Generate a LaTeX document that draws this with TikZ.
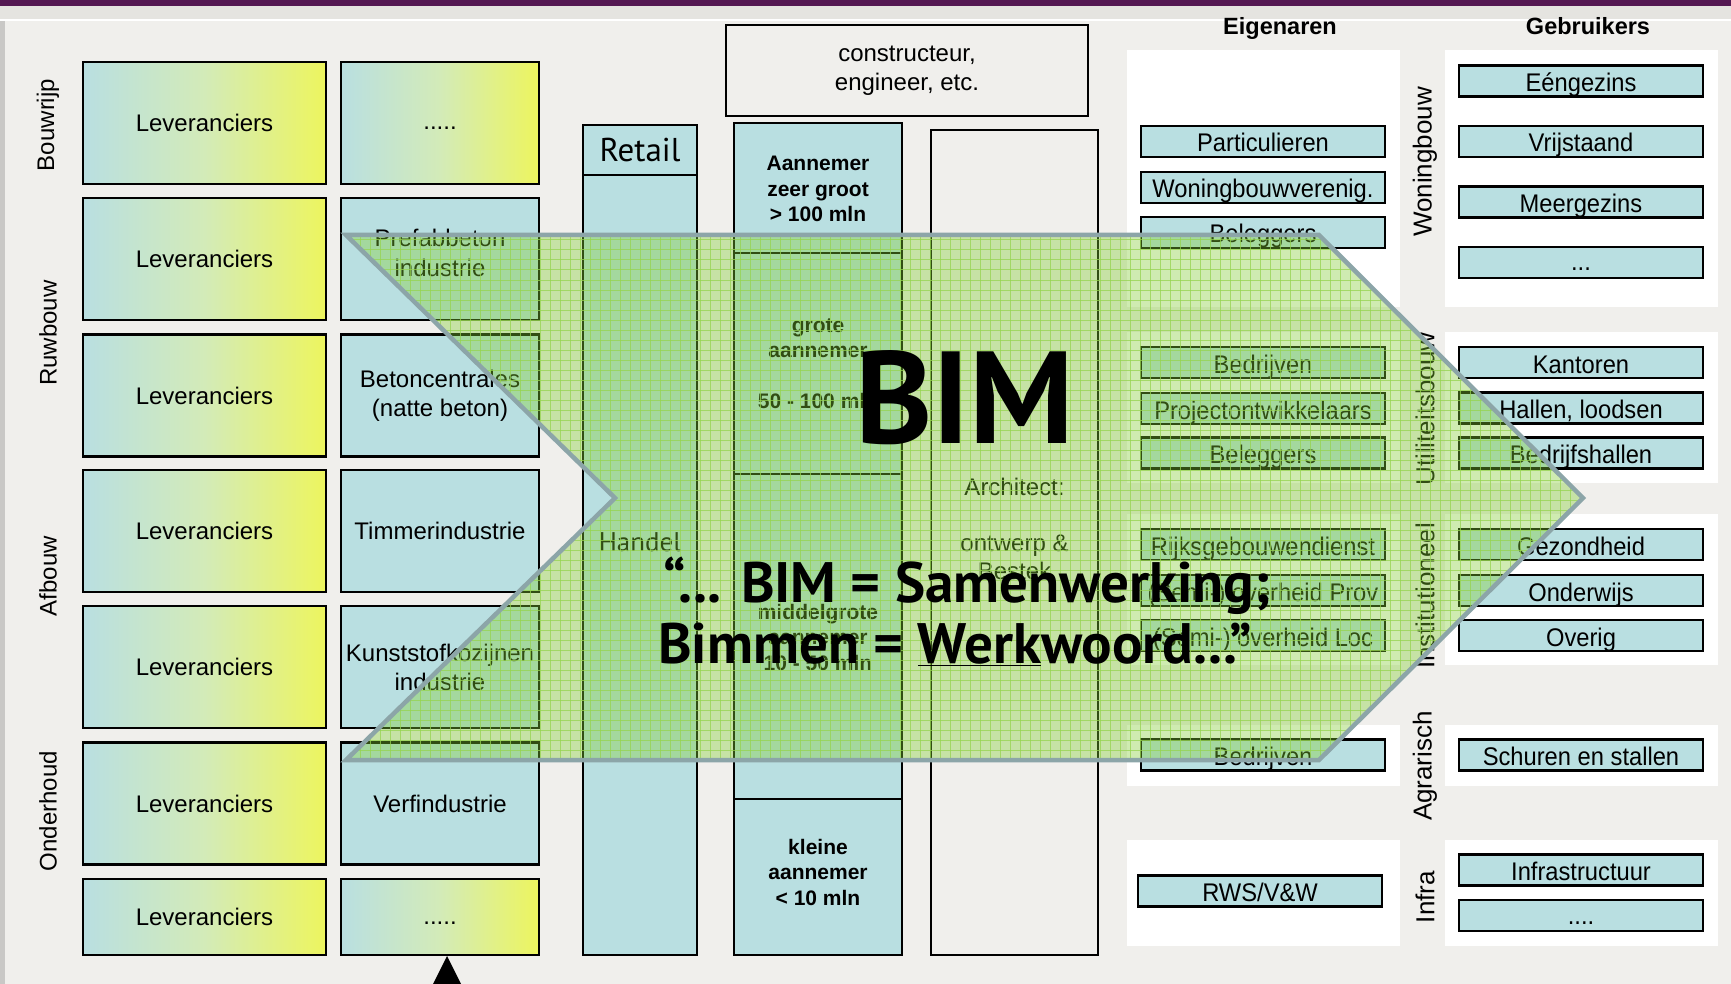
\documentclass[tikz,border=0pt]{standalone}
\usepackage{fontspec}
\setmainfont{Liberation Sans}
\newfontfamily\narfont[FakeStretch=0.93]{Liberation Sans}
\newfontfamily\ptsans{PT Sans}
\definecolor{bg}{HTML}{F0EFEC}
\definecolor{cy}{HTML}{B9DFE1}
\definecolor{yl}{HTML}{EDF55E}
\definecolor{md}{HTML}{D3EBB8}
\definecolor{purp}{HTML}{541852}
\definecolor{band}{HTML}{E5E4E0}
\definecolor{lstrip}{HTML}{C9C8C6}
\definecolor{arrowfill}{RGB}{130,205,50}
\definecolor{gridgreen}{RGB}{150,212,80}
\definecolor{arrowedge}{HTML}{8CA5A8}
\newcommand{\fsz}[2]{\fontsize{#1}{#2}\selectfont}
\begin{document}
\begin{tikzpicture}[x=1pt,y=-1pt,
  box/.style={draw=black, line width=2.6pt, inner sep=0pt, align=center},
  gradbox/.style={box, left color=cy, right color=yl, middle color=md},
  plainbox/.style={box, fill=cy},
  bigtxt/.style={font=\fsz{24}{29}},
  smallbox/.style={box, fill=cy, minimum height=31, font=\narfont\fsz{25.5}{30}, text height=24pt, text depth=3pt},
  ownbox/.style={smallbox, minimum width=244},
  usebox/.style={smallbox, minimum width=244},
  leftlab/.style={rotate=90, font=\fsz{24}{29}},
  rightlab/.style={rotate=90, font=\fsz{26}{30}},
  colline/.style={draw=black, line width=2.6pt},
  aantxt/.style={align=center, font=\bfseries\fsz{21}{25.5}},
  panel/.style={fill=white},
  gridline/.style={gridgreen, line width=1pt, opacity=0.75}
]
\useasboundingbox (0,0) rectangle (1731,984);
\fill[bg] (0,0) rectangle (1731,984);
\fill[lstrip] (0,0) rectangle (5,984);
\fill[band] (0,6) rectangle (1731,19);
\fill[white] (0,19) rectangle (1731,21);
\fill[purp] (0,0) rectangle (1731,6);

% left grid of suppliers
\foreach \r/\yc in {1/123,2/259,3/395.5,4/531,5/667,6/803.5}
  \node[gradbox, bigtxt, minimum width=243, minimum height=122] (lev\r) at (204.5,\yc) {Leveranciers};
\node[gradbox, bigtxt, minimum width=243, minimum height=76] (lev7) at (204.5,917) {Leveranciers};

\node[gradbox, bigtxt, minimum width=198, minimum height=122, text height=14pt, text depth=0pt] (ind1) at (440,123) {.....};
\node[plainbox, bigtxt, minimum width=198, minimum height=122] (ind2) at (440,259) {};
\node[bigtxt, align=center, font=\fsz{24}{30}] (ind2t) at (440,253) {Prefabbeton\\industrie};
\node[plainbox, bigtxt, minimum width=198, minimum height=122] (ind3) at (440,395.5) {Betoncentrales\\(natte beton)};
\node[plainbox, bigtxt, minimum width=198, minimum height=122] (ind4) at (440,531) {Timmerindustrie};
\node[plainbox, bigtxt, minimum width=198, minimum height=122] (ind5) at (440,667) {Kunststofkozijnen\\industrie};
\node[plainbox, bigtxt, minimum width=198, minimum height=122] (ind6) at (440,803.5) {Verfindustrie};
\node[gradbox, bigtxt, minimum width=198, minimum height=76, text height=14pt, text depth=0pt] (ind7) at (440,917) {.....};

\node[leftlab] (lbw) at (48,125) {Bouwrijp};
\node[leftlab] (lrw) at (48,333) {Ruwbouw};
\node[leftlab] (laf) at (48,576) {Afbouw};
\node[leftlab] (lon) at (48,811) {Onderhoud};

\coordinate (tri) at (447,956);
\fill[black] (tri) -- (432,986) -- (462,986) -- cycle;

% Retail column
\fill[cy] (583,125) rectangle (697,955);
\draw[colline] (583,125) rectangle (697,955);
\draw[colline] (583,175) -- (697,175);
\node[font=\ptsans\fsz{33}{36}] (retail) at (640,150) {Retail};
\node[font=\ptsans\fsz{27}{30}] (handel) at (640,542) {Handel};

% Aannemer column
\fill[cy] (734,123) rectangle (902,955);
\draw[colline] (734,123) rectangle (902,955);
\draw[colline] (734,253) -- (902,253);
\draw[colline] (734,474) -- (902,474);
\draw[colline] (734,799) -- (902,799);
\node[aantxt] (aan1) at (818,189) {Aannemer\\zeer groot\\> 100 mln};
\node[aantxt] (aan2) at (818,364) {grote\\aannemer\\[25.5pt]50 - 100 mln};
\node[aantxt] (aan3) at (818,637) {middelgrote\\aannemer\\10 - 50 mln};
\node[aantxt] (aan4) at (818,872) {kleine\\aannemer\\< 10 mln};

% Architect column
\draw[colline] (931,130) rectangle (1098,955);
\node[align=center, font=\fsz{24}{28}] (arch) at (1014.5,529) {Architect:\\[28pt]ontwerp \&\\Bestek};

% constructeur
\node[box, bigtxt, minimum width=362, minimum height=91] (constr) at (907,70.5) {constructeur,\\engineer, etc.};

% right side panels
\foreach \ya/\yb in {50/307,332/483,514/665,725/786,840/946} {
  \fill[panel] (1127,\ya) rectangle (1400,\yb);
  \fill[panel] (1445,\ya) rectangle (1718,\yb);
}
\node[font=\bfseries\fsz{23.5}{28}, anchor=base] (eig) at (1280,35) {Eigenaren};
\node[font=\bfseries\fsz{23.5}{28}, anchor=base] (geb) at (1588,35) {Gebruikers};

\node[rightlab] (rwon) at (1425,162) {Woningbouw};
\node[rightlab] (rutl) at (1425,409) {Utiliteitsbouw};
\node[rightlab] (rins) at (1425,596) {Institutioneel};
\node[rightlab] (ragr) at (1425,766) {Agrarisch};
\node[rightlab] (rinf) at (1425,897) {Infra};

\node[ownbox] (o1) at (1263,141.5) {Particulieren};
\node[ownbox] (o2) at (1263,187.5) {Woningbouwverenig.};
\node[ownbox] (o3) at (1263,232.5) {Beleggers};
\node[ownbox] (o4) at (1263,362.5) {Bedrijven};
\node[ownbox] (o5) at (1263,408.5) {Projectontwikkelaars};
\node[ownbox] (o6) at (1263,453) {Beleggers};
\node[ownbox] (o7) at (1263,544.5) {Rijksgebouwendienst};
\node[ownbox] (o8) at (1263,590.5) {(Semi-) overheid Prov};
\node[ownbox] (o9) at (1263,635.5) {(Semi-) overheid Loc};
\node[ownbox] (o10) at (1263,755) {Bedrijven};
\node[ownbox] (o11) at (1260,891) {RWS/V\&W};

\node[usebox] (u1) at (1581,81) {Eéngezins};
\node[usebox] (u2) at (1581,141.5) {Vrijstaand};
\node[usebox] (u3) at (1581,202) {Meergezins};
\node[usebox, text height=17pt, text depth=0pt] (u4) at (1581,262.5) {...};
\node[usebox] (u5) at (1581,362.5) {Kantoren};
\node[usebox] (u6) at (1581,408) {Hallen, loodsen};
\node[usebox] (u7) at (1581,453) {Bedrijfshallen};
\node[usebox] (u8) at (1581,544.5) {Gezondheid};
\node[usebox] (u9) at (1581,590.5) {Onderwijs};
\node[usebox] (u10) at (1581,635.5) {Overig};
\node[usebox] (u11) at (1581,755) {Schuren en stallen};
\node[usebox] (u12) at (1581,870) {Infrastructuur};
\node[usebox, text height=17pt, text depth=0pt] (u13) at (1581,915.5) {....};

% BIM arrow
\coordinate (a1) at (346,235);
\coordinate (a2) at (1319,235);
\coordinate (a3) at (1583,498);
\coordinate (a4) at (1319,760);
\coordinate (a5) at (346,760);
\coordinate (a6) at (615,498);
\fill[arrowfill, fill opacity=0.38] (a1) -- (a2) -- (a3) -- (a4) -- (a5) -- (a6) -- cycle;
\begin{scope}
  \clip (a1) -- (a2) -- (a3) -- (a4) -- (a5) -- (a6) -- cycle;
  \foreach \gx in {340,350,...,1590} \draw[gridline] (\gx,228) -- (\gx,768);
  \foreach \gy in {230,240,...,770} \draw[gridline] (338,\gy) -- (1590,\gy);
\end{scope}
\draw[arrowedge, line width=4.5pt] (a1) -- (a2) -- (a3) -- (a4) -- (a5) -- (a6) -- cycle;

\node[font=\ptsans\bfseries\fsz{131}{131}, anchor=base, inner sep=0pt] (bim) at (965,443) {BIM};
\node[font=\ptsans\bfseries\fsz{57}{61}, anchor=base, inner sep=0pt] (q1) at (967,602) {“... BIM = Samenwerking;};
\node[font=\ptsans\bfseries\fsz{57}{61}, anchor=base, inner sep=0pt] (q2) at (955,663) {Bimmen = \underline{Werk}woord...”};
\end{tikzpicture}
\end{document}
